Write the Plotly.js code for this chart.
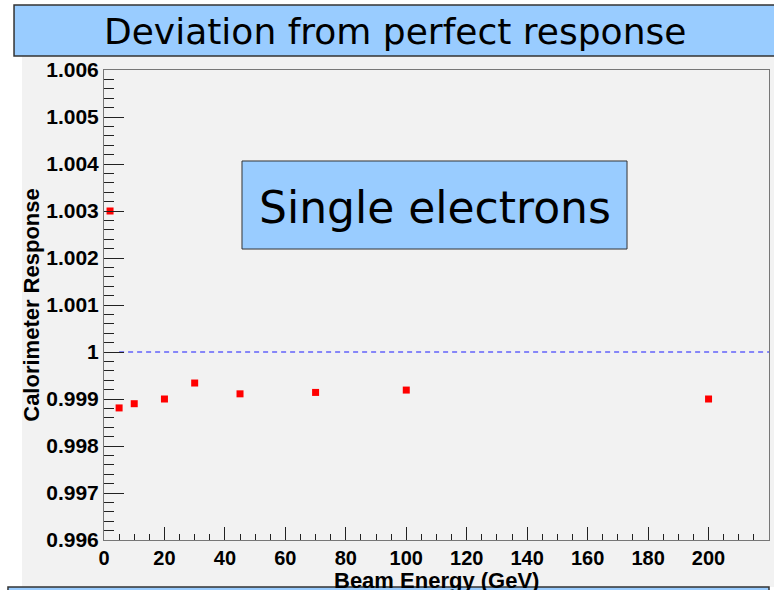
<!DOCTYPE html>
<html>
<head>
<meta charset="utf-8">
<script src="https://cdn.plot.ly/plotly-3.0.1.min.js"></script>
<style>
  html, body { margin: 0; padding: 0; background: #ffffff; }
  #chart { width: 774px; height: 590px; }
</style>
</head>
<body>
<div id="chart"></div>
<script>
// Beam energies (GeV) and measured calorimeter response for single electrons
const beamEnergy = [2, 5, 10, 20, 30, 45, 70, 100, 200];
const response = [1.0030, 0.99881, 0.99890, 0.99900, 0.99934, 0.99911, 0.99914, 0.99919, 0.99900];

// Perfect-response reference line
const refLineX = [5, 220];
const refLineY = [1, 1];

// Axis ticks
const xTickVals = [0, 20, 40, 60, 80, 100, 120, 140, 160, 180, 200];
const xTickText = ['0', '20', '40', '60', '80', '100', '120', '140', '160', '180', '200'];
const yTickVals = [0.996, 0.997, 0.998, 0.999, 1.000, 1.001, 1.002, 1.003, 1.004, 1.005, 1.006];
const yTickText = ['0.996', '0.997', '0.998', '0.999', '1', '1.001', '1.002', '1.003', '1.004', '1.005', '1.006'];

const titleText = 'Deviation from perfect response';
const boxText = 'Single electrons';
const xTitle = 'Beam Energy (GeV)';
const yTitle = 'Calorimeter Response';

const boldFont = { family: 'Liberation Sans, Arial, sans-serif', weight: 'bold', color: '#000000' };
const handFont = { family: 'DejaVu Sans, sans-serif', color: '#000000' };

const traces = [
  {
    x: refLineX, y: refLineY,
    type: 'scatter', mode: 'lines',
    line: { color: '#1a1aff', width: 1, dash: '5px,4px' },
    hoverinfo: 'skip', showlegend: false
  },
  {
    x: beamEnergy, y: response,
    type: 'scatter', mode: 'markers',
    marker: { symbol: 'square', size: 7, color: '#ff0000', line: { width: 0 } },
    showlegend: false, cliponaxis: false
  }
];

const layout = {
  width: 774, height: 590,
  margin: { l: 104, r: 5, t: 70, b: 50 },
  paper_bgcolor: '#ffffff',
  plot_bgcolor: '#f2f2f2',
  showlegend: false,
  xaxis: {
    range: [0, 220],
    tickmode: 'array', tickvals: xTickVals, ticktext: xTickText,
    ticks: 'inside', ticklen: 13, tickwidth: 1, tickcolor: '#222222',
    minor: { ticks: 'inside', dtick: 5, ticklen: 6, tickwidth: 1, tickcolor: '#222222' },
    showline: true, linecolor: '#777777', linewidth: 1, mirror: true,
    showgrid: false, zeroline: false,
    tickfont: Object.assign({ size: 20 }, boldFont)
  },
  yaxis: {
    range: [0.996, 1.006],
    tickmode: 'array', tickvals: yTickVals, ticktext: yTickText,
    ticks: 'inside', ticklen: 20, tickwidth: 1, tickcolor: '#222222',
    minor: { ticks: 'inside', dtick: 0.0002, ticklen: 10, tickwidth: 1, tickcolor: '#222222' },
    showline: true, linecolor: '#777777', linewidth: 1, mirror: true,
    showgrid: false, zeroline: false,
    tickfont: Object.assign({ size: 21 }, boldFont),
    title: { text: yTitle, font: Object.assign({ size: 22 }, boldFont), standoff: 0 }
  },
  shapes: [
    // grey canvas behind the frame
    { type: 'rect', xref: 'paper', yref: 'paper', layer: 'below',
      x0: -0.1233, x1: 1.0075, y0: -0.1, y1: 1.0298,
      fillcolor: '#f2f2f2', line: { width: 0 } },
    // title banner
    { type: 'rect', xref: 'paper', yref: 'paper', layer: 'above',
      x0: -0.1353, x1: 1.03, y0: 1.0298, y1: 1.1383,
      fillcolor: '#99ccff', line: { color: '#333333', width: 1.5 } },
    // label box inside the frame
    { type: 'rect', xref: 'paper', yref: 'paper', layer: 'above',
      x0: 0.2075, x1: 0.7865, y0: 0.6191, y1: 0.8064,
      fillcolor: '#99ccff', line: { color: '#333333', width: 1 } },
    // banner strip along the bottom edge
    { type: 'rect', xref: 'paper', yref: 'paper', layer: 'above',
      x0: -0.1444, x1: 1.0, y0: -0.1, y1: -0.13,
      fillcolor: '#99ccff', line: { color: '#333333', width: 1.5 } }
  ],
  annotations: [
    { text: titleText, xref: 'paper', yref: 'paper', x: 0.4376, y: 1.081,
      xanchor: 'center', yanchor: 'middle', showarrow: false,
      font: Object.assign({ size: 36 }, handFont) },
    { text: boxText, xref: 'paper', yref: 'paper', x: 0.497, y: 0.7085,
      xanchor: 'center', yanchor: 'middle', showarrow: false,
      font: Object.assign({ size: 44 }, handFont) },
    // x-axis title, sitting just above the bottom strip
    { text: xTitle, xref: 'paper', yref: 'paper', x: 0.5, y: -0.086,
      xanchor: 'center', yanchor: 'middle', showarrow: false,
      font: Object.assign({ size: 22 }, boldFont) }
  ]
};

Plotly.newPlot('chart', traces, layout, { displayModeBar: false, staticPlot: true });
</script>
</body>
</html>
